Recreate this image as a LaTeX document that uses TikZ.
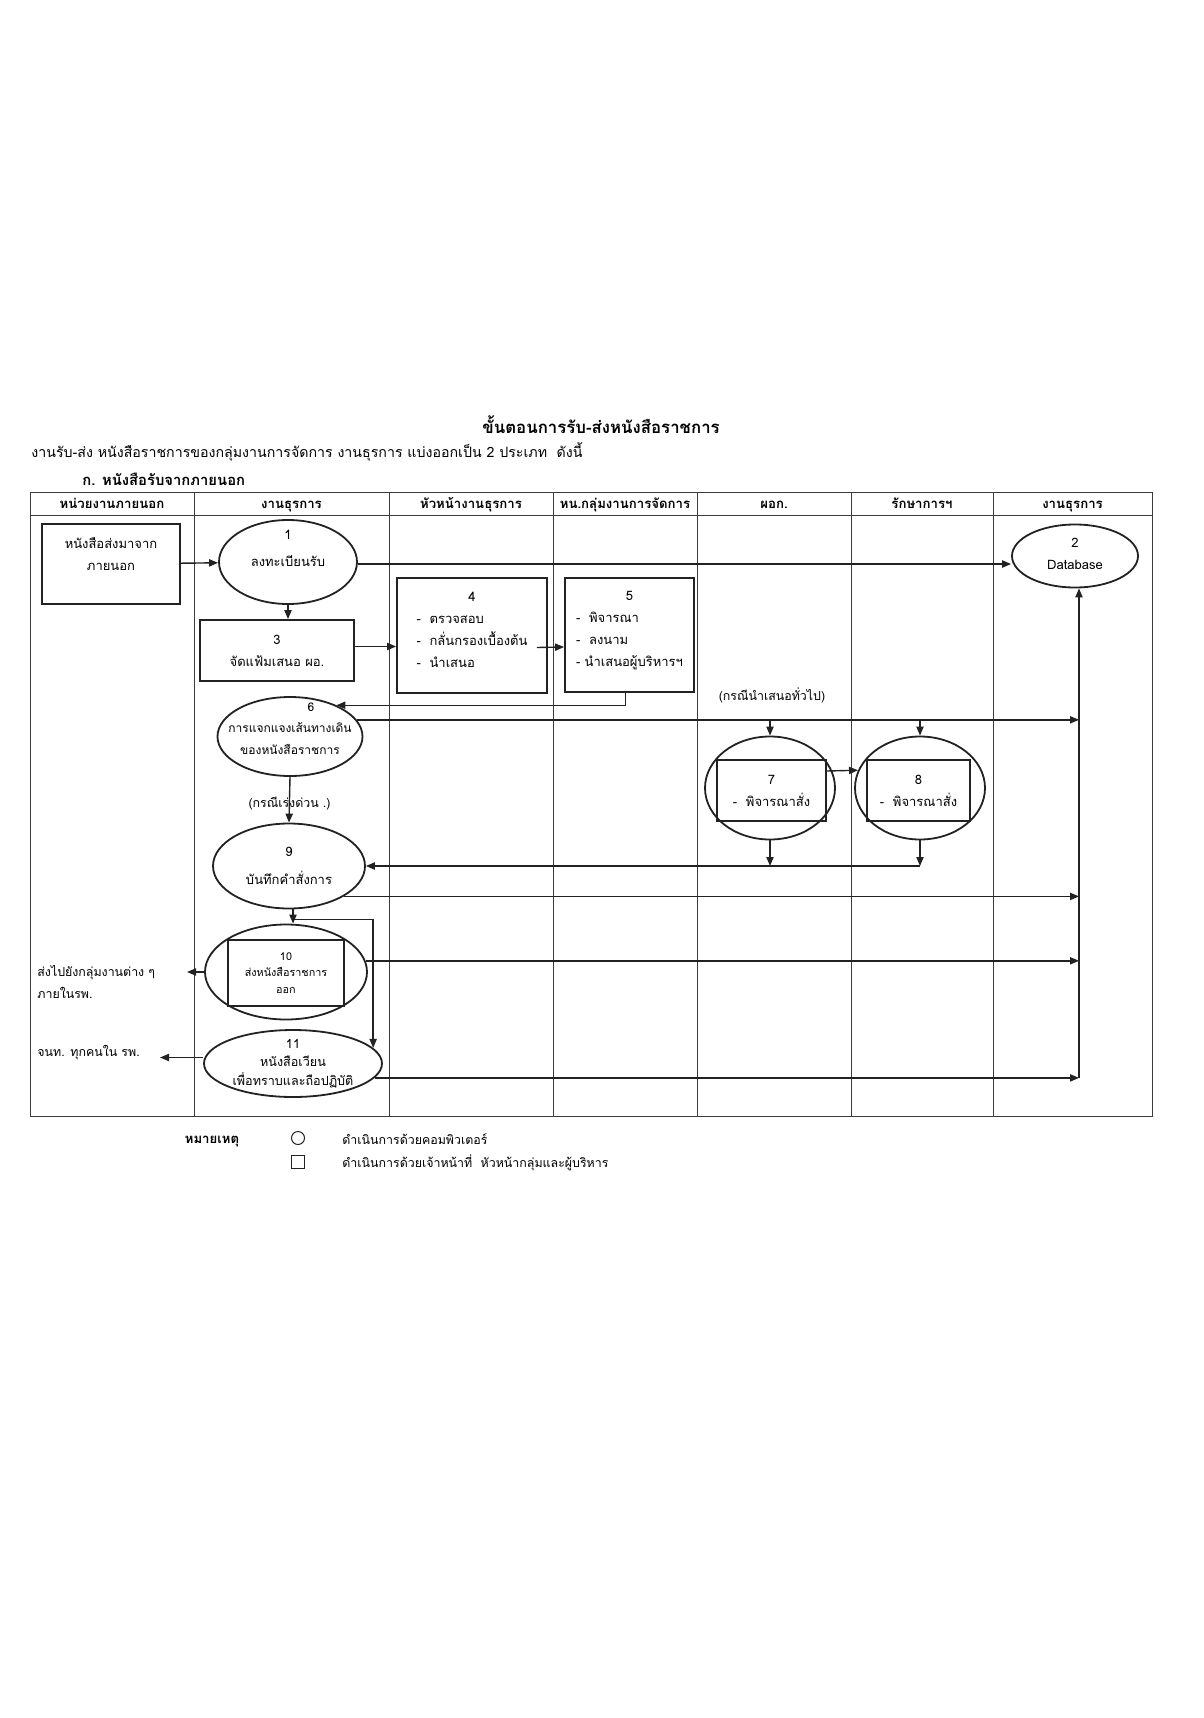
\documentclass[tikz,border=0pt]{standalone}
\usepackage{fontspec}
\newfontfamily\thaifont[Script=Thai]{Loma}
\definecolor{mInk}{HTML}{222222}
\definecolor{mGrid}{HTML}{3C3C3C}
\usetikzlibrary{positioning,arrows.meta,shapes.geometric}
\newcommand{\bodyfont}{\thaifont\fontsize{6.5}{11}\selectfont}
\newcommand{\smallfont}{\thaifont\fontsize{6.2}{11}\selectfont}
\newcommand{\headfont}{\thaifont\bfseries\fontsize{6.6}{10}\selectfont}

\begin{document}
\begin{tikzpicture}[x=0.5pt, y=-0.5pt, font=\bodyfont,
  lane/.style={draw=mGrid, line width=0.5pt},
  procbox/.style={draw=mInk, line width=0.9pt, inner sep=0pt},
  compell/.style={draw=mInk, line width=0.9pt, ellipse, inner sep=0pt},
  txt/.style={align=center, inner sep=0pt},
  note/.style={font=\smallfont, inner sep=0pt},
  flow/.style={draw=mInk, line width=0.7pt, -{Stealth[inset=0pt, length=4.5pt, width=3.6pt]}},
  hdr/.style={font=\headfont, text height=5.5pt, text depth=1.5pt, inner sep=0pt},
]
\fill[white] (0,0) rectangle (1204,1718);
\useasboundingbox (0,0) rectangle (1204,1718);
% title
\node[font=\thaifont\bfseries\fontsize{8.4}{10}\selectfont] (title) at (601,425) {ขั้นตอนการรับ-ส่งหนังสือราชการ};
\node[anchor=west, inner sep=0pt, font=\thaifont\fontsize{7.1}{10}\selectfont] (intro) at (31,452) {งานรับ-ส่ง หนังสือราชการของกลุ่มงานการจัดการ งานธุรการ แบ่งออกเป็น 2 ประเภท\ \ ดังนี้};
\node[anchor=west, inner sep=0pt, font=\thaifont\bfseries\fontsize{7.4}{10}\selectfont] (sect) at (82,479) {ก. หนังสือรับจากภายนอก};
% swimlanes
\draw[lane] (30,492) rectangle (1152,1116);
\draw[lane] (30,515) -- (1152,515);
\draw[lane] (194,492) -- (194,1116);
\draw[lane] (389,492) -- (389,1116);
\draw[lane] (553,492) -- (553,1116);
\draw[lane] (697,492) -- (697,1116);
\draw[lane] (851,492) -- (851,1116);
\draw[lane] (993,492) -- (993,1116);
\node[hdr] (hOut) at (112,504) {หน่วยงานภายนอก};
\node[hdr] (hAdm) at (291.5,504) {งานธุรการ};
\node[hdr] (hHead) at (471,504) {หัวหน้างานธุรการ};
\node[hdr] (hMgr) at (625,504) {หน.กลุ่มงานการจัดการ};
\node[hdr] (hDir) at (774,504) {ผอก.};
\node[hdr] (hAct) at (922,504) {รักษาการฯ};
\node[hdr] (hAdmB) at (1072.5,504) {งานธุรการ};
% steps
\node[procbox, minimum width=69pt, minimum height=40pt, label={[txt, yshift=5pt]center:{หนังสือส่งมาจาก\\ภายนอก}}] (src) at (111,564) {};
\node[compell, minimum width=69pt, minimum height=42pt, label={[txt, yshift=6.75pt]center:{1\\[2.5pt]ลงทะเบียนรับ}}] (reg) at (288,562) {};
\node[compell, minimum width=63pt, minimum height=31.5pt, label={[txt, yshift=1pt]center:{2\\Database}}] (db) at (1075,556) {};
\node[procbox, minimum width=77pt, minimum height=30.5pt, label={[txt]center:{3\\จัดแฟ้มเสนอ ผอ.}}] (file) at (277,650.5) {};
\node[procbox, minimum width=75pt, minimum height=57.5pt, label={[txt, yshift=2.75pt]center:{\begin{tabular}{@{}l@{}}\multicolumn{1}{@{}c@{}}{4}\\-\ \ ตรวจสอบ\\-\ \ กลั่นกรองเบื้องต้น\\-\ \ นำเสนอ\end{tabular}}}] (chk) at (472,635.5) {};
\node[procbox, minimum width=64.5pt, minimum height=57pt, label={[txt, yshift=3pt]center:{\begin{tabular}{@{}l@{}}\multicolumn{1}{@{}c@{}}{5}\\-\ \ พิจารณา\\-\ \ ลงนาม\\- นำเสนอผู้บริหารฯ\end{tabular}}}] (sign) at (629.5,635) {};
\node[compell, minimum width=72.5pt, minimum height=39.5pt, label={[txt, yshift=4pt, font=\thaifont\fontsize{6}{10.75}\selectfont]center:{\hspace*{21pt}6\\การแจกแจงเส้นทางเดิน\\ของหนังสือราชการ}}] (route) at (290,736.5) {};
\node[note] (general) at (772,695) {(กรณีนำเสนอทั่วไป)};
% director and acting director
\node[compell, minimum width=65pt, minimum height=51.5pt] (dir) at (770,788) {};
\node[procbox, minimum width=54.5pt, minimum height=30.5pt, align=center] (dirbox) at (771.5,790.5) {7\\-\ \ พิจารณาสั่ง};
\node[compell, minimum width=65pt, minimum height=51.5pt] (act) at (920,788) {};
\node[procbox, minimum width=51.5pt, minimum height=30.5pt, align=center] (actbox) at (918.5,790.5) {8\\-\ \ พิจารณาสั่ง};
% orders and outgoing
\node[compell, minimum width=76pt, minimum height=42.5pt, label={[txt]center:{9\\[3pt]บันทึกคำสั่งการ}}] (memo) at (289,866) {};
\node[compell, minimum width=81pt, minimum height=47.5pt] (send) at (286,972) {};
\node[procbox, minimum width=58pt, minimum height=33pt, align=center, font=\thaifont\fontsize{5.4}{8.25}\selectfont] (sendbox) at (286,973) {10\\ส่งหนังสือราชการ\\ออก};
\node[compell, minimum width=89pt, minimum height=33.5pt, label={[txt, font=\thaifont\fontsize{6.3}{9.25}\selectfont]center:{11\\หนังสือเวียน\\เพื่อทราบและถือปฏิบัติ}}] (circ) at (293,1063.5) {};
\node[note, anchor=west, align=left] (toGroups) at (37,982) {ส่งไปยังกลุ่มงานต่าง ๆ\\ภายในรพ.};
\node[note, anchor=west] (toStaff) at (37,1053) {จนท. ทุกคนใน รพ.};
\coordinate (outA) at (187,972);
\coordinate (outB) at (160,1057.5);
\coordinate (bus) at (1079,1078);
\coordinate (split) at ([shift={(2pt,-5pt)}]memo.south);
% connectors
\draw[flow] (src) -- (reg);
\draw[flow] ([yshift=-1pt]reg.east) -- ([yshift=-4pt]db.west);
\draw[flow] (reg.south) -- (reg.south |- file.north);
\draw[flow] ([yshift=2pt]file.east) -- ([yshift=-5.5pt]chk.west);
\draw[flow] ([shift={(-5.5pt,-6pt)}]chk.east) -- ([yshift=-6pt]sign.west);
\draw[flow] ([xshift=-2pt]sign.south) |- (route.34);
\draw[flow] (route.14) -- (route.14 -| bus);
\draw[flow] (route.14 -| dir.north) -- (dir.north);
\draw[flow] (route.14 -| act.north) -- (act.north);
\draw[flow] (route.south) -- (memo.north) node[note, midway, yshift=-2pt] (urgent) {(กรณีเร่งด่วน .)};
\draw[flow] ([yshift=9.75pt]dirbox.east) -- (act.164);
\draw[flow] (dir.south) -- (dir.south |- memo.east);
\draw[flow] (act.south) -- (act.south |- memo.east);
\draw[flow] (act.south |- memo.east) -- (memo.east);
\draw[flow] (memo.-29) -- (memo.-29 -| bus);
\draw[flow] ([xshift=2pt]memo.south) -- (split |- send.north);
\draw[flow] (split) -| (circ.11);
\draw[flow] (send.west) -- (outA);
\draw[flow] (send.8) -- (send.8 -| bus);
\draw[flow] ([yshift=3pt]circ.west) -- (outB);
\draw[flow] (circ.-10) -- (circ.-10 -| bus);
\draw[flow] (bus) -- (bus |- db.south);
% legend
\node[hdr] (noteHd) at (212,1139) {หมายเหตุ};
\node[draw=mInk, circle, minimum size=6.5pt, inner sep=0pt, line width=0.5pt] (keyComp) at (298,1138) {};
\node[draw=mInk, minimum size=6.5pt, inner sep=0pt, line width=0.5pt] (keyMan) at (298,1162) {};
\node[note, anchor=west] (keyCompTxt) at (342,1139) {ดำเนินการด้วยคอมพิวเตอร์};
\node[note, anchor=west] (keyManTxt) at (342,1163) {ดำเนินการด้วยเจ้าหน้าที่\ \ หัวหน้ากลุ่มและผู้บริหาร};
\end{tikzpicture}
\end{document}
